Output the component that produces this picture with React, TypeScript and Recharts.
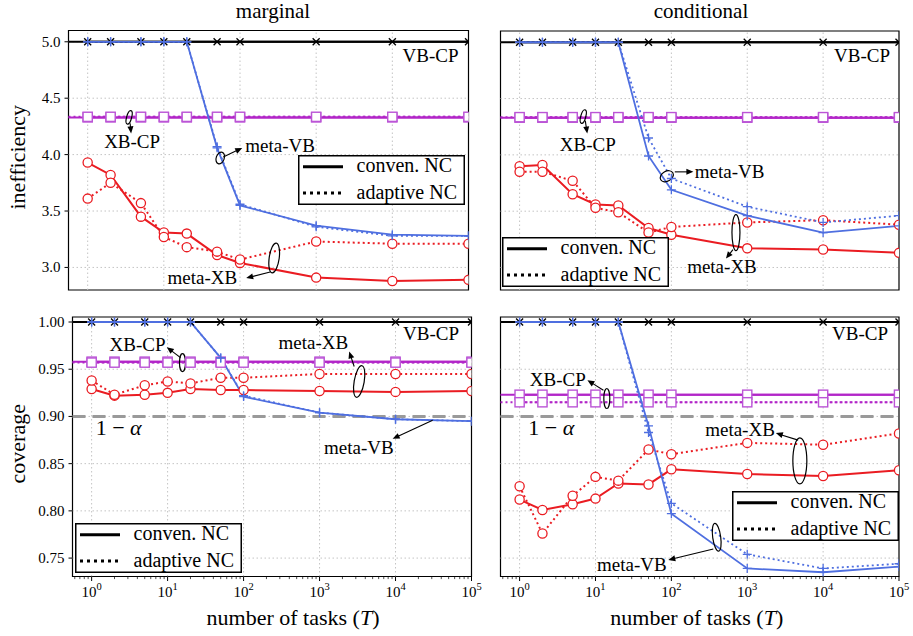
import React from 'react';
import { LineChart, Line, XAxis, YAxis, ReferenceLine, ReferenceDot, ReferenceArea, Legend, Label } from 'recharts';

const FONT = 'Liberation Serif, Times New Roman, Times, serif';
const RED = '#ea1c22';
const BLUE = '#4f6fe0';
const MAG = '#b226c8';
const GRID = '#c4c4c4';

const X_MIN = 0.56;
const X_MAX = 100000;

// number of tasks T
const tasks = [1, 2, 5, 10, 20, 50, 100, 1000, 10000, 100000];
const decades = [1, 10, 100, 1000, 10000];

// ---- marginal / inefficiency
const mIneffVbCp = 5.0;
const mIneffXbCpConv = 4.33;
const mIneffXbCpAdapt = 4.335;
const mIneffMetaVbConv = [5.0, 5.0, 5.0, 5.0, 5.0, 4.06, 3.55, 3.37, 3.29, 3.28];
const mIneffMetaVbAdapt = [5.0, 5.0, 5.0, 5.0, 5.0, 4.07, 3.56, 3.36, 3.28, 3.28];
const mIneffMetaXbConv = [3.93, 3.82, 3.45, 3.31, 3.3, 3.11, 3.04, 2.91, 2.88, 2.89];
const mIneffMetaXbAdapt = [3.61, 3.75, 3.57, 3.27, 3.18, 3.14, 3.07, 3.23, 3.21, 3.21];

// ---- conditional / inefficiency
const cIneffVbCp = 5.0;
const cIneffXbCpConv = 4.33;
const cIneffXbCpAdapt = 4.335;
const cIneffMetaVbConv = [5.0, 5.0, 5.0, 5.0, 5.0, 3.99, 3.69, 3.46, 3.31, 3.37];
const cIneffMetaVbAdapt = [5.0, 5.0, 5.0, 5.0, 5.0, 4.15, 3.79, 3.54, 3.4, 3.46];
const cIneffMetaXbConv = [3.9, 3.91, 3.65, 3.56, 3.55, 3.35, 3.29, 3.17, 3.16, 3.13];
const cIneffMetaXbAdapt = [3.85, 3.85, 3.77, 3.53, 3.49, 3.31, 3.36, 3.4, 3.42, 3.38];

// ---- marginal / coverage
const mCovVbCp = 1.0;
const mCovXbCpConv = 0.958;
const mCovXbCpAdapt = 0.957;
const mCovMetaVbConv = [1.0, 1.0, 1.0, 1.0, 1.0, 0.962, 0.921, 0.904, 0.897, 0.895];
const mCovMetaVbAdapt = [1.0, 1.0, 1.0, 1.0, 1.0, 0.962, 0.922, 0.904, 0.897, 0.895];
const mCovMetaXbConv = [0.929, 0.922, 0.923, 0.925, 0.929, 0.928, 0.928, 0.927, 0.926, 0.927];
const mCovMetaXbAdapt = [0.938, 0.923, 0.933, 0.937, 0.935, 0.941, 0.941, 0.945, 0.945, 0.945];

// ---- conditional / coverage
const cCovVbCp = 1.0;
const cCovXbCpConv = 0.923;
const cCovXbCpAdapt = 0.915;
const cCovMetaVbConv = [1.0, 1.0, 1.0, 1.0, 1.0, 0.89, 0.797, 0.739, 0.735, 0.741];
const cCovMetaVbAdapt = [1.0, 1.0, 1.0, 1.0, 1.0, 0.883, 0.808, 0.754, 0.739, 0.744];
const cCovMetaXbConv = [0.812, 0.801, 0.807, 0.813, 0.829, 0.828, 0.844, 0.839, 0.837, 0.843];
const cCovMetaXbAdapt = [0.826, 0.776, 0.816, 0.836, 0.832, 0.865, 0.86, 0.872, 0.87, 0.882];

const ineffTicks = [3.0, 3.5, 4.0, 4.5, 5.0];
const covTicks = [0.75, 0.8, 0.85, 0.9, 0.95, 1.0];
const ALPHA_LEVEL = 0.9;

const minorTicks: number[] = [];
for (let e = -1; e <= 5; e++) {
  for (let m = 1; m <= 9; m++) {
    const v = Number((m * Math.pow(10, e)).toPrecision(6));
    if (v >= X_MIN && v <= X_MAX) minorTicks.push(v);
  }
}

type Row = { t: number; vb: number; xbC: number; xbA: number; mvC: number; mvA: number; mxC: number; mxA: number };
const buildRows = (vb: number, xbC: number, xbA: number, mvC: number[], mvA: number[], mxC: number[], mxA: number[]): Row[] =>
  tasks.map((t, i) => ({ t, vb, xbC, xbA, mvC: mvC[i], mvA: mvA[i], mxC: mxC[i], mxA: mxA[i] }));

type Ann = {
  x: number;
  y: number;
  text?: string;
  tx?: number;
  ty?: number;
  anchor?: 'start' | 'middle' | 'end';
  size?: number;
  alpha?: boolean;
  ell?: [number, number, number, number, number];
  arrow?: [number, number, number, number];
};

type Geo = { wrapLeft: number; wrapTop: number; wrapW: number; wrapH: number; plotLeft: number; plotTop: number; plotW: number; plotH: number };

type PanelCfg = {
  data: Row[];
  vb: number;
  xbC: number;
  xbA: number;
  yDomain: [number, number];
  yTicks: number[];
  digits: number;
  showY: boolean;
  showX: boolean;
  yLabel?: string;
  xLabelDx?: number;
  alphaLine?: boolean;
  geo: Geo;
  anns: Ann[];
  legend: { left: number; top: number };
};

const serif = { fontFamily: FONT };

const XDot = (p: any) =>
  p.cx == null ? null : (
    <g key={`x${p.index}`}>
      <line x1={p.cx - 3.5} y1={p.cy - 3.5} x2={p.cx + 3.5} y2={p.cy + 3.5} stroke="#000" strokeWidth={1.3} />
      <line x1={p.cx - 3.5} y1={p.cy + 3.5} x2={p.cx + 3.5} y2={p.cy - 3.5} stroke="#000" strokeWidth={1.3} />
    </g>
  );
const PlusDot = (p: any) =>
  p.cx == null ? null : (
    <g key={`p${p.index}`}>
      <line x1={p.cx - 4.5} y1={p.cy} x2={p.cx + 4.5} y2={p.cy} stroke={BLUE} strokeWidth={1.3} />
      <line x1={p.cx} y1={p.cy - 4.5} x2={p.cx} y2={p.cy + 4.5} stroke={BLUE} strokeWidth={1.3} />
    </g>
  );
const CircDot = (p: any) =>
  p.cx == null ? null : <circle key={`c${p.index}`} cx={p.cx} cy={p.cy} r={4.6} fill="#fff" stroke={RED} strokeWidth={1.3} />;
const SqDot = (p: any) =>
  p.cx == null ? null : (
    <rect key={`s${p.index}`} x={p.cx - 4.6} y={p.cy - 4.6} width={9.2} height={9.2} fill="#fff" stroke="#bb55d6" strokeWidth={1.4} />
  );

const XTick = (props: any) => {
  const { x, y, payload } = props;
  const v = payload.value as number;
  const e = Math.round(Math.log10(v));
  const major = Math.abs(v / Math.pow(10, e) - 1) < 1e-6;
  return (
    <g>
      <line x1={x} x2={x} y1={y} y2={y + (major ? 4.5 : 2.6)} stroke="#000" strokeWidth={major ? 1 : 0.7} />
      {major && (
        <text x={x} y={y + 20} textAnchor="middle" style={serif} fontSize={15} fill="#000">
          10
          <tspan dy={-6.7} fontSize={10.5}>
            {e}
          </tspan>
        </text>
      )}
    </g>
  );
};

const YTick = (props: any) => {
  const { x, y, payload, digits } = props;
  return (
    <text x={x} y={y + 5} textAnchor="end" style={serif} fontSize={15} fill="#000">
      {Number(payload.value).toFixed(digits)}
    </text>
  );
};

const Arrow = ({ x1, y1, x2, y2 }: { x1: number; y1: number; x2: number; y2: number }) => {
  const dx = x2 - x1;
  const dy = y2 - y1;
  const len = Math.sqrt(dx * dx + dy * dy) || 1;
  const ux = dx / len;
  const uy = dy / len;
  const L = 7;
  const W = 3;
  const bx = x2 - ux * L;
  const by = y2 - uy * L;
  return (
    <g>
      <line x1={x1} y1={y1} x2={bx + ux * 1} y2={by + uy * 1} stroke="#000" strokeWidth={1.1} />
      <polygon points={`${x2},${y2} ${bx - uy * W},${by + ux * W} ${bx + uy * W},${by - ux * W}`} fill="#000" />
    </g>
  );
};

const AnnShape = ({ cx, cy, a }: { cx: number; cy: number; a: Ann }) => {
  if (cx == null || cy == null) return null;
  return (
    <g>
      {a.ell && (
        <ellipse
          cx={cx + a.ell[0]}
          cy={cy + a.ell[1]}
          rx={a.ell[2]}
          ry={a.ell[3]}
          transform={`rotate(${a.ell[4]} ${cx + a.ell[0]} ${cy + a.ell[1]})`}
          fill="none"
          stroke="#000"
          strokeWidth={1.2}
        />
      )}
      {a.arrow && <Arrow x1={cx + a.arrow[0]} y1={cy + a.arrow[1]} x2={cx + a.arrow[2]} y2={cy + a.arrow[3]} />}
      {a.text && (
        <text x={cx + (a.tx ?? 0)} y={cy + (a.ty ?? 0)} textAnchor={a.anchor ?? 'start'} style={serif} fontSize={a.size ?? 19} fill="#000">
          {a.alpha ? (
            <>
              {'1 − '}
              <tspan fontStyle="italic">α</tspan>
            </>
          ) : (
            a.text
          )}
        </text>
      )}
    </g>
  );
};

const LegendBox = () => (
  <svg width={167} height={50} style={{ display: 'block' }}>
    <rect x={0.75} y={0.75} width={165.5} height={48.5} fill="#fff" stroke="#000" strokeWidth={1.5} />
    <line x1={5} x2={45} y1={11.7} y2={11.7} stroke="#000" strokeWidth={3} />
    <text x={58.5} y={17} style={serif} fontSize={20} fill="#000">
      conven. NC
    </text>
    <line x1={5} x2={45} y1={38} y2={38} stroke="#000" strokeWidth={3} strokeDasharray="3 4" />
    <text x={58.5} y={43.5} style={serif} fontSize={20} fill="#000">
      adaptive NC
    </text>
  </svg>
);

function Panel({ cfg }: { cfg: PanelCfg }) {
  const g = cfg.geo;
  const yW = cfg.showY ? g.plotLeft - g.wrapLeft : 0;
  const xH = cfg.showX ? g.wrapTop + g.wrapH - g.plotTop - g.plotH : 0;
  const margin = {
    left: g.plotLeft - g.wrapLeft - yW,
    top: g.plotTop - g.wrapTop,
    right: g.wrapLeft + g.wrapW - g.plotLeft - g.plotW,
    bottom: g.wrapTop + g.wrapH - g.plotTop - g.plotH - xH,
  };
  const xLabel = (p: any) => {
    const vb = p.viewBox || {};
    return (
      <text x={vb.x + vb.width / 2 + (cfg.xLabelDx ?? 0)} y={vb.y + 48.5} textAnchor="middle" style={serif} fontSize={22} fill="#000">
        number of tasks (<tspan fontStyle="italic">T</tspan>)
      </text>
    );
  };
  const yLabel = (p: any) => {
    const vb = p.viewBox || {};
    const X = vb.x + 25;
    const Y = vb.y + vb.height / 2 - 3;
    return (
      <text x={X} y={Y} transform={`rotate(-90 ${X} ${Y})`} textAnchor="middle" style={serif} fontSize={22} fill="#000">
        {cfg.yLabel}
      </text>
    );
  };
  return (
    <div style={{ position: 'absolute', left: g.wrapLeft, top: g.wrapTop, fontFamily: FONT }}>
      <LineChart width={g.wrapW} height={g.wrapH} data={cfg.data} margin={margin} style={serif}>
        <XAxis
          dataKey="t"
          type="number"
          scale="log"
          domain={[X_MIN, X_MAX]}
          allowDataOverflow
          ticks={minorTicks}
          interval={0}
          hide={!cfg.showX}
          height={cfg.showX ? xH : undefined}
          tick={(p: any) => <XTick {...p} />}
          tickLine={false}
          axisLine={false}
          tickSize={0}
          tickMargin={0}
          label={cfg.showX ? <Label content={xLabel} /> : undefined}
        />
        <YAxis
          type="number"
          domain={cfg.yDomain}
          allowDataOverflow
          ticks={cfg.yTicks}
          interval={0}
          hide={!cfg.showY}
          width={cfg.showY ? yW : undefined}
          tick={(p: any) => <YTick {...p} digits={cfg.digits} />}
          tickLine={{ stroke: '#000', strokeWidth: 1 }}
          tickSize={4}
          tickMargin={4}
          axisLine={false}
          label={cfg.showY ? <Label content={yLabel} /> : undefined}
        />
        {cfg.yTicks.map((v) => (
          <ReferenceLine key={`gy${v}`} y={v} stroke={GRID} strokeDasharray="1.5 2.5" strokeWidth={1} />
        ))}
        {decades.map((d) => (
          <ReferenceLine key={`gx${d}`} x={d} stroke={GRID} strokeDasharray="1.5 2.5" strokeWidth={1} />
        ))}
        {cfg.alphaLine && <ReferenceLine y={ALPHA_LEVEL} stroke="#9a9a9a" strokeWidth={3} strokeDasharray="13 7" />}
        <ReferenceLine y={cfg.vb} stroke="#000" strokeWidth={2} />
        <ReferenceLine y={cfg.xbC} stroke={MAG} strokeWidth={2} />
        <ReferenceLine y={cfg.xbA} stroke={MAG} strokeWidth={2} strokeDasharray="2 3" />
        <Line dataKey="vb" stroke="#000" strokeWidth={2} dot={XDot} activeDot={false} isAnimationActive={false} />
        <Line dataKey="xbC" stroke={MAG} strokeWidth={2} dot={SqDot} activeDot={false} isAnimationActive={false} />
        <Line dataKey="xbA" stroke={MAG} strokeWidth={2} strokeDasharray="2 3" dot={SqDot} activeDot={false} isAnimationActive={false} />
        <Line dataKey="mxC" stroke={RED} strokeWidth={2} dot={CircDot} activeDot={false} isAnimationActive={false} />
        <Line dataKey="mxA" stroke={RED} strokeWidth={2} strokeDasharray="2 3" dot={CircDot} activeDot={false} isAnimationActive={false} />
        <Line dataKey="mvC" stroke={BLUE} strokeWidth={1.8} dot={PlusDot} activeDot={false} isAnimationActive={false} />
        <Line dataKey="mvA" stroke={BLUE} strokeWidth={1.8} strokeDasharray="2 3" dot={PlusDot} activeDot={false} isAnimationActive={false} />
        {cfg.anns.map((a, i) => (
          <ReferenceDot key={`a${i}`} x={a.x} y={a.y} r={1} shape={(p: any) => <AnnShape cx={p.cx} cy={p.cy} a={a} />} />
        ))}
        <ReferenceArea x1={X_MIN} x2={X_MAX} y1={cfg.yDomain[0]} y2={cfg.yDomain[1]} fill="none" fillOpacity={0} stroke="#000" strokeWidth={1.2} />
        <Legend
          layout="vertical"
          align="center"
          verticalAlign="middle"
          content={() => <LegendBox />}
          wrapperStyle={{ left: cfg.legend.left - g.wrapLeft, top: cfg.legend.top - g.wrapTop, width: 167, height: 50 }}
        />
      </LineChart>
    </div>
  );
}

const INEFF_DOMAIN: [number, number] = [2.8, 5.1];
const COV_DOMAIN: [number, number] = [0.7305, 1.0053];

const panels: PanelCfg[] = [
  {
    data: buildRows(mIneffVbCp, mIneffXbCpConv, mIneffXbCpAdapt, mIneffMetaVbConv, mIneffMetaVbAdapt, mIneffMetaXbConv, mIneffMetaXbAdapt),
    vb: mIneffVbCp,
    xbC: mIneffXbCpConv,
    xbA: mIneffXbCpAdapt,
    yDomain: INEFF_DOMAIN,
    yTicks: ineffTicks,
    digits: 1,
    showY: true,
    showX: false,
    yLabel: 'inefficiency',
    geo: { wrapLeft: 0, wrapTop: 0, wrapW: 488, wrapH: 300, plotLeft: 68.5, plotTop: 30.5, plotW: 400, plotH: 259.5 },
    legend: { left: 298, top: 155 },
    anns: [
      { x: 100000, y: 5.0, text: 'VB-CP', tx: -10, ty: 20, anchor: 'end' },
      { x: 3.5, y: 4.33, text: 'XB-CP', tx: 3, ty: 31, anchor: 'middle', ell: [0, 0, 2.5, 7, 15], arrow: [1, 6, 2, 16] },
      { x: 55, y: 3.97, text: 'meta-VB', tx: 25, ty: -6, anchor: 'start', ell: [0, 0, 4, 6, 20], arrow: [3, -1, 22, -10] },
      { x: 281, y: 3.083, text: 'meta-XB', tx: -37, ty: 26, anchor: 'end', ell: [0, 0, 5, 15, 8], arrow: [-4, 14, -28, 20] },
    ],
  },
  {
    data: buildRows(cIneffVbCp, cIneffXbCpConv, cIneffXbCpAdapt, cIneffMetaVbConv, cIneffMetaVbAdapt, cIneffMetaXbConv, cIneffMetaXbAdapt),
    vb: cIneffVbCp,
    xbC: cIneffXbCpConv,
    xbA: cIneffXbCpAdapt,
    yDomain: INEFF_DOMAIN,
    yTicks: ineffTicks,
    digits: 1,
    showY: false,
    showX: false,
    geo: { wrapLeft: 490, wrapTop: 0, wrapW: 423, wrapH: 300, plotLeft: 500.5, plotTop: 31, plotW: 398.5, plotH: 259 },
    legend: { left: 501.5, top: 236.5 },
    anns: [
      { x: 100000, y: 5.0, text: 'VB-CP', tx: -9, ty: 19.5, anchor: 'end' },
      { x: 6.9, y: 4.34, text: 'XB-CP', tx: 4.5, ty: 34, anchor: 'middle', ell: [0, 0, 2.5, 7, 15], arrow: [2, 4, 4, 17] },
      { x: 87, y: 3.81, text: 'meta-VB', tx: 28, ty: 1.5, anchor: 'start', ell: [0, 0, 7, 5, -30], arrow: [8, -4.4, 26.6, -4.4] },
      { x: 710, y: 3.31, text: 'meta-XB', tx: -14, ty: 40, anchor: 'middle', ell: [0, 0, 4, 18, 0], arrow: [-3, 17, -10, 26] },
    ],
  },
  {
    data: buildRows(mCovVbCp, mCovXbCpConv, mCovXbCpAdapt, mCovMetaVbConv, mCovMetaVbAdapt, mCovMetaXbConv, mCovMetaXbAdapt),
    vb: mCovVbCp,
    xbC: mCovXbCpConv,
    xbA: mCovXbCpAdapt,
    yDomain: COV_DOMAIN,
    yTicks: covTicks,
    digits: 2,
    showY: true,
    showX: true,
    yLabel: 'coverage',
    xLabelDx: 21,
    alphaLine: true,
    geo: { wrapLeft: 0, wrapTop: 300, wrapW: 488, wrapH: 336, plotLeft: 72.5, plotTop: 317, plotW: 399, plotH: 259.5 },
    legend: { left: 75, top: 523 },
    anns: [
      { x: 100000, y: 1.0, text: 'VB-CP', tx: -12.5, ty: 18, anchor: 'end' },
      { x: 15.7, y: 0.957, text: 'XB-CP', tx: -17, ty: -12, anchor: 'end', ell: [0, 0, 3, 9, 0], arrow: [-2, -5, -15.7, -15.4] },
      { x: 3324, y: 0.937, text: 'meta-XB', tx: -11, ty: -32.7, anchor: 'end', ell: [0, 0, 5, 16, 10], arrow: [-5, -15, -10, -30] },
      { x: 30800, y: 0.896, text: 'meta-VB', tx: -39, ty: 33.3, anchor: 'end', arrow: [0, 0, -40, 18.6] },
      { x: 1, y: ALPHA_LEVEL, text: '1 − α', alpha: true, tx: 4, ty: 18.5, anchor: 'start', size: 22 },
    ],
  },
  {
    data: buildRows(cCovVbCp, cCovXbCpConv, cCovXbCpAdapt, cCovMetaVbConv, cCovMetaVbAdapt, cCovMetaXbConv, cCovMetaXbAdapt),
    vb: cCovVbCp,
    xbC: cCovXbCpConv,
    xbA: cCovXbCpAdapt,
    yDomain: COV_DOMAIN,
    yTicks: covTicks,
    digits: 2,
    showY: false,
    showX: true,
    xLabelDx: -3,
    alphaLine: true,
    geo: { wrapLeft: 490, wrapTop: 300, wrapW: 423, wrapH: 336, plotLeft: 500.5, plotTop: 317, plotW: 398.5, plotH: 259.5 },
    legend: { left: 731.5, top: 491 },
    anns: [
      { x: 100000, y: 1.0, text: 'VB-CP', tx: -11, ty: 18.3, anchor: 'end' },
      { x: 14.1, y: 0.919, text: 'XB-CP', tx: -21, ty: -12.3, anchor: 'end', ell: [0, 0, 3, 10, 0], arrow: [-3.4, -8.3, -19.4, -18.3] },
      { x: 1, y: ALPHA_LEVEL, text: '1 − α', alpha: true, tx: 8.7, ty: 19, anchor: 'start', size: 22 },
      { x: 4935, y: 0.853, text: 'meta-XB', tx: -25, ty: -24.5, anchor: 'end', ell: [0, 0, 7, 23, 0], arrow: [-1.7, -20.7, -24, -27.7] },
      { x: 396, y: 0.772, text: 'meta-VB', tx: -50, ty: 34, anchor: 'end', ell: [0, 0, 4, 14, -8], arrow: [-3.4, 11.6, -48.4, 22.6] },
    ],
  },
];

const titles = [
  { text: 'marginal', x: 273 },
  { text: 'conditional', x: 701 },
];

export default function App() {
  return (
    <div style={{ position: 'absolute', left: 0, top: 0, width: 913, height: 636, background: '#fff', overflow: 'hidden', fontFamily: FONT }}>
      <svg width={913} height={26} style={{ position: 'absolute', left: 0, top: 0 }}>
        {titles.map((t) => (
          <text key={t.text} x={t.x} y={18} textAnchor="middle" style={serif} fontSize={21} fill="#000">
            {t.text}
          </text>
        ))}
      </svg>
      {panels.map((p, i) => (
        <Panel key={i} cfg={p} />
      ))}
    </div>
  );
}
